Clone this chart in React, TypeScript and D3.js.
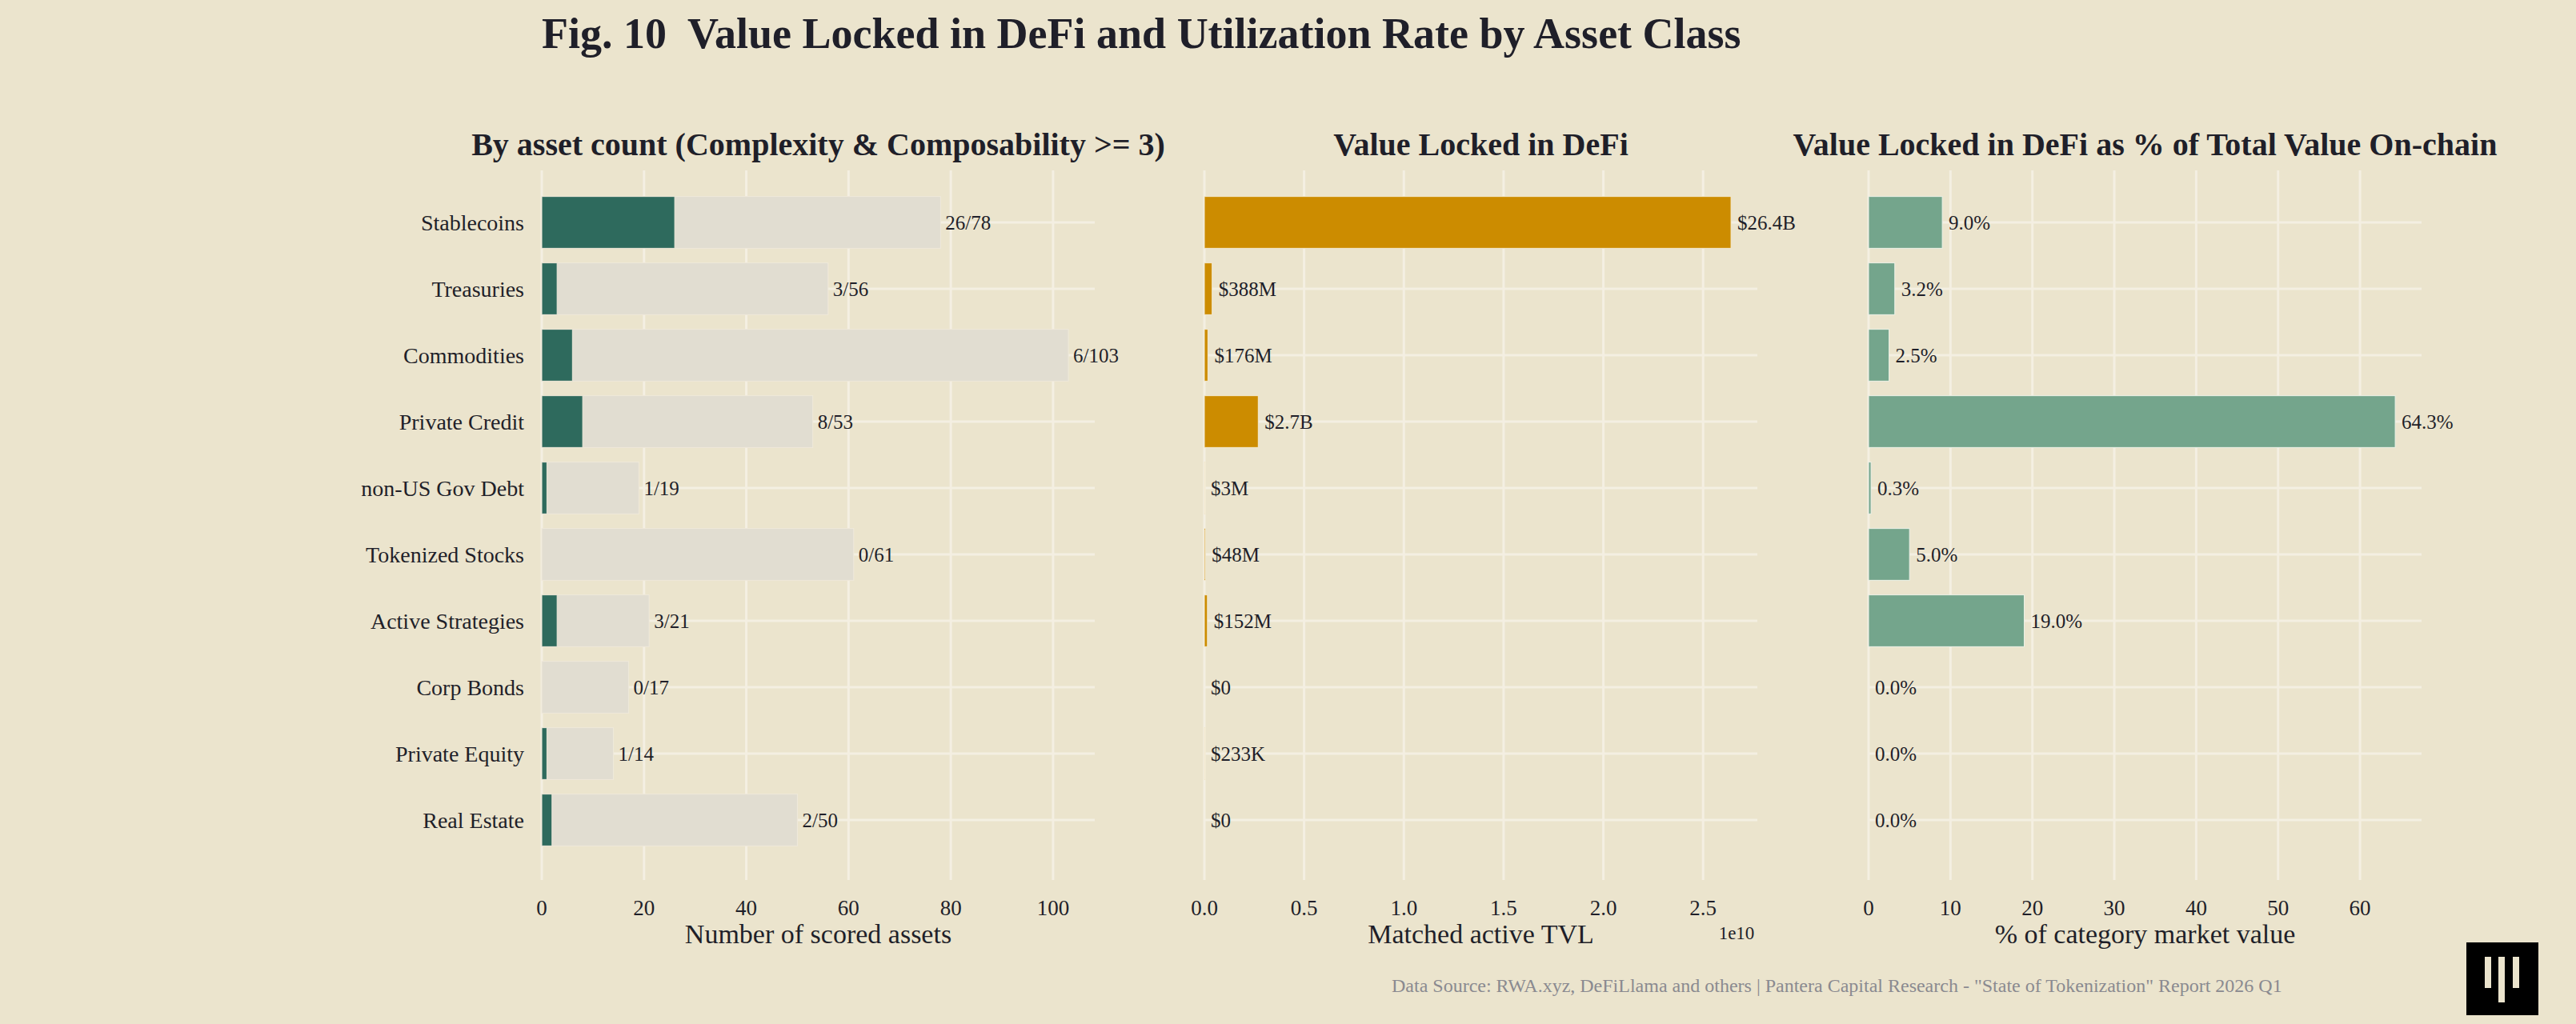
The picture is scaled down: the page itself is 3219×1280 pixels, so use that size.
import * as d3 from "d3";

// categories, top to bottom
const categories = [
    "Stablecoins",
    "Treasuries",
    "Commodities",
    "Private Credit",
    "non-US Gov Debt",
    "Tokenized Stocks",
    "Active Strategies",
    "Corp Bonds",
    "Private Equity",
    "Real Estate",
];

// panel 1: composable assets / scored assets
const composableCount = [26, 3, 6, 8, 1, 0, 3, 0, 1, 2];
const scoredCount = [78, 56, 103, 53, 19, 61, 21, 17, 14, 50];

// panel 2: matched active TVL (USD)
const tvlValues = [26.4e9, 388e6, 176e6, 2.7e9, 3e6, 48e6, 152e6, 0, 233e3, 0];

// panel 3: % of category market value
const pctValues = [9.0, 3.2, 2.5, 64.3, 0.3, 5.0, 19.0, 0.0, 0.0, 0.0];

const ticks1 = [0, 20, 40, 60, 80, 100];
const ticks2 = [0, 0.5e10, 1e10, 1.5e10, 2e10, 2.5e10];
const ticks3 = [0, 10, 20, 30, 40, 50, 60];

const W = 3219;
const H = 1280;
const BG = "#ebe4cd";
const GRID = "#f4efe2";
const INK = "#1f1f29";
const FONT = "'Liberation Serif', 'Times New Roman', serif";

const panelW = 691;
const gridTop = 213;
const gridBottom = 1100;

function fmtTvl(v: number) {
    if (v >= 1e9) return `$${(v / 1e9).toFixed(1)}B`;
    if (v >= 1e6) return `$${(v / 1e6).toFixed(0)}M`;
    if (v >= 1e3) return `$${(v / 1e3).toFixed(0)}K`;
    return "$0";
}

const y = d3
    .scaleBand<string>()
    .domain(categories)
    .range([236.5, 1066.5])
    .paddingInner(0.22)
    .paddingOuter(0.11);

function Grid({ x, ticks }: { x: d3.ScaleLinear<number, number>; ticks: number[] }) {
    const [x0, x1] = x.range();
    return (
        <g stroke={GRID} strokeWidth={3}>
            {ticks.map((t) => (
                <line key={"v" + t} x1={x(t)} x2={x(t)} y1={gridTop} y2={gridBottom} />
            ))}
            {categories.map((c) => (
                <line
                    key={"h" + c}
                    x1={x0}
                    x2={x1}
                    y1={(y(c) ?? 0) + y.bandwidth() / 2}
                    y2={(y(c) ?? 0) + y.bandwidth() / 2}
                />
            ))}
        </g>
    );
}

function Axis({
    x,
    ticks,
    fmt,
    title,
}: {
    x: d3.ScaleLinear<number, number>;
    ticks: number[];
    fmt: (t: number) => string;
    title: string;
}) {
    const [x0, x1] = x.range();
    return (
        <g fontFamily={FONT} fill={INK}>
            {ticks.map((t) => (
                <text key={t} x={x(t)} y={1144} fontSize={27} textAnchor="middle">
                    {fmt(t)}
                </text>
            ))}
            <text x={(x0 + x1) / 2} y={1179} fontSize={34} textAnchor="middle">
                {title}
            </text>
        </g>
    );
}

function PanelTitle({ x, text }: { x: d3.ScaleLinear<number, number>; text: string }) {
    const [x0, x1] = x.range();
    return (
        <text
            x={(x0 + x1) / 2}
            y={194}
            fontSize={40}
            fontWeight="bold"
            textAnchor="middle"
            fontFamily={FONT}
            fill={INK}
        >
            {text}
        </text>
    );
}

export default function App() {
    const x1 = d3.scaleLinear([0, d3.max(scoredCount)! * 1.05], [677, 677 + panelW]);
    const x2 = d3.scaleLinear([0, d3.max(tvlValues)! * 1.05], [1505, 1505 + panelW]);
    const x3 = d3.scaleLinear([0, d3.max(pctValues)! * 1.05], [2335, 2335 + panelW]);
    const bh = y.bandwidth();
    const cy = (c: string) => (y(c) ?? 0) + bh / 2;

    return (
        <svg
            width={W}
            height={H}
            style={{ position: "absolute", left: 0, top: 0, display: "block" }}
        >
            <rect width={W} height={H} fill={BG} />

            <text
                x={677}
                y={60}
                fontSize={54}
                fontWeight="bold"
                fontFamily={FONT}
                fill={INK}
                style={{ whiteSpace: "pre" }}
            >
                {"Fig. 10  Value Locked in DeFi and Utilization Rate by Asset Class"}
            </text>

            {/* Panel 1: asset count */}
            <Grid x={x1} ticks={ticks1} />
            <PanelTitle x={x1} text="By asset count (Complexity & Composability >= 3)" />
            <g fontFamily={FONT} fill={INK}>
                {categories.map((c) => (
                    <text key={c} x={655} y={cy(c)} dy="0.35em" fontSize={28} textAnchor="end">
                        {c}
                    </text>
                ))}
            </g>
            <g stroke="#efe9da" strokeWidth={1}>
                {categories.map((c, i) => (
                    <rect
                        key={c}
                        x={x1(0)}
                        y={y(c)}
                        width={x1(scoredCount[i]) - x1(0)}
                        height={bh}
                        fill="#e1ddd1"
                    />
                ))}
                {categories.map((c, i) =>
                    composableCount[i] > 0 ? (
                        <rect
                            key={"g" + c}
                            x={x1(0)}
                            y={y(c)}
                            width={x1(composableCount[i]) - x1(0)}
                            height={bh}
                            fill="#2e6a5d"
                        />
                    ) : null
                )}
            </g>
            <g fontFamily={FONT} fill={INK} fontSize={25}>
                {categories.map((c, i) => (
                    <text key={c} x={x1(scoredCount[i]) + 6} y={cy(c)} dy="0.35em">
                        {composableCount[i]}/{scoredCount[i]}
                    </text>
                ))}
            </g>
            <Axis x={x1} ticks={ticks1} fmt={(t) => String(t)} title="Number of scored assets" />

            {/* Panel 2: TVL */}
            <Grid x={x2} ticks={ticks2} />
            <PanelTitle x={x2} text="Value Locked in DeFi" />
            <g stroke="#f3ead2" strokeWidth={1}>
                {categories.map((c, i) =>
                    tvlValues[i] > 0 ? (
                        <rect
                            key={c}
                            x={x2(0)}
                            y={y(c)}
                            width={Math.max(x2(tvlValues[i]) - x2(0), 1)}
                            height={bh}
                            fill="#cc8c00"
                        />
                    ) : null
                )}
            </g>
            <g fontFamily={FONT} fill={INK} fontSize={25}>
                {categories.map((c, i) => (
                    <text key={c} x={x2(tvlValues[i]) + 8} y={cy(c)} dy="0.35em">
                        {fmtTvl(tvlValues[i])}
                    </text>
                ))}
            </g>
            <Axis x={x2} ticks={ticks2} fmt={(t) => (t / 1e10).toFixed(1)} title="Matched active TVL" />
            <text x={2170} y={1174} fontSize={23} textAnchor="middle" fontFamily={FONT} fill={INK}>
                1e10
            </text>

            {/* Panel 3: share of market value */}
            <Grid x={x3} ticks={ticks3} />
            <PanelTitle x={x3} text="Value Locked in DeFi as % of Total Value On-chain" />
            <g stroke="#eef2e8" strokeWidth={1}>
                {categories.map((c, i) =>
                    pctValues[i] > 0 ? (
                        <rect
                            key={c}
                            x={x3(0)}
                            y={y(c)}
                            width={Math.max(x3(pctValues[i]) - x3(0), 1)}
                            height={bh}
                            fill="#74a58c"
                        />
                    ) : null
                )}
            </g>
            <g fontFamily={FONT} fill={INK} fontSize={25}>
                {categories.map((c, i) => (
                    <text key={c} x={x3(pctValues[i]) + 8} y={cy(c)} dy="0.35em">
                        {pctValues[i].toFixed(1)}%
                    </text>
                ))}
            </g>
            <Axis x={x3} ticks={ticks3} fmt={(t) => String(t)} title="% of category market value" />

            {/* source + logo */}
            <text x={1739} y={1240} fontSize={24} fontFamily={FONT} fill="#8a8a90">
                Data Source: RWA.xyz, DeFiLlama and others | Pantera Capital Research - "State of Tokenization" Report 2026 Q1
            </text>
            <g>
                <rect x={3082} y={1178} width={90} height={91} fill="#000" />
                <rect x={3105} y={1196} width={8} height={39} fill="#ebe4cd" />
                <rect x={3122} y={1196} width={8} height={57} fill="#ebe4cd" />
                <rect x={3140} y={1196} width={8} height={39} fill="#ebe4cd" />
            </g>
        </svg>
    );
}
